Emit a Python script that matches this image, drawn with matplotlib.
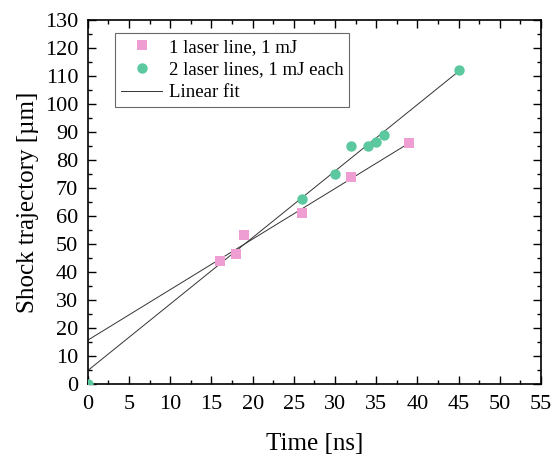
import numpy as np
import matplotlib
matplotlib.use("Agg")
import matplotlib.pyplot as plt
from matplotlib.ticker import MultipleLocator

# Data
t_one = [16, 18, 19, 26, 32, 39]
y_one = [44, 46.5, 53, 61, 74, 86]
t_two = [0, 26, 30, 32, 34, 35, 36, 45]
y_two = [0, 66, 75, 85, 85, 86.5, 89, 112]

label_one = "1 laser line, 1 mJ"
label_two = "2 laser lines, 1 mJ each"
label_fit = "Linear fit"

plt.rcParams['font.family'] = ['Liberation Serif', 'DejaVu Serif']

fig = plt.figure(figsize=(5.56, 4.62), dpi=100)
ax = fig.add_axes([0.158, 0.169, 0.815, 0.788])

pink = '#EE9ED3'
green = '#5CC8A0'

ax.plot(t_one, y_one, 's', color=pink, markersize=6.5, markeredgewidth=0, label=label_one, zorder=3)
ax.plot(t_two, y_two, 'o', color=green, markersize=7.5, markeredgewidth=0, label=label_two, zorder=3)

# linear fits (the origin point is not part of the second fit)
p1 = np.polyfit(t_one, y_one, 1)
x1 = np.array([0, max(t_one)])
ax.plot(x1, np.polyval(p1, x1), '-', color='#333333', lw=0.7, label=label_fit, zorder=2)
t2 = np.array(t_two); v2 = np.array(y_two)
mask = t2 > 0
p2 = np.polyfit(t2[mask], v2[mask], 1)
x2 = np.array([0, max(t_two)])
ax.plot(x2, np.polyval(p2, x2), '-', color='#333333', lw=0.7, zorder=2)

ax.set_xlim(0, 55)
ax.set_ylim(0, 130)
ax.xaxis.set_major_locator(MultipleLocator(5))
ax.xaxis.set_minor_locator(MultipleLocator(2.5))
ax.yaxis.set_major_locator(MultipleLocator(10))
ax.yaxis.set_minor_locator(MultipleLocator(5))
ax.tick_params(which='both', direction='in', top=True, right=True, width=1)
ax.tick_params(which='major', length=6, labelsize=16)
ax.tick_params(axis='x', which='major', pad=8)
ax.tick_params(axis='y', which='major', pad=7)
ax.tick_params(which='minor', length=3)
for s in ax.spines.values():
    s.set_linewidth(1.2)

ax.set_xlabel("Time [ns]", fontsize=18, labelpad=14)
ax.set_ylabel("Shock trajectory [µm]", fontsize=18, labelpad=4)

leg = ax.legend(loc='upper left', bbox_to_anchor=(0.04, 0.99), fontsize=13.5, frameon=True,
                fancybox=False, edgecolor='#444444', handlelength=2.2, handletextpad=0.35,
                borderpad=0.3, labelspacing=0.3, borderaxespad=0.5)
leg.get_frame().set_linewidth(0.8)

fig.savefig("out.png", dpi=100)
